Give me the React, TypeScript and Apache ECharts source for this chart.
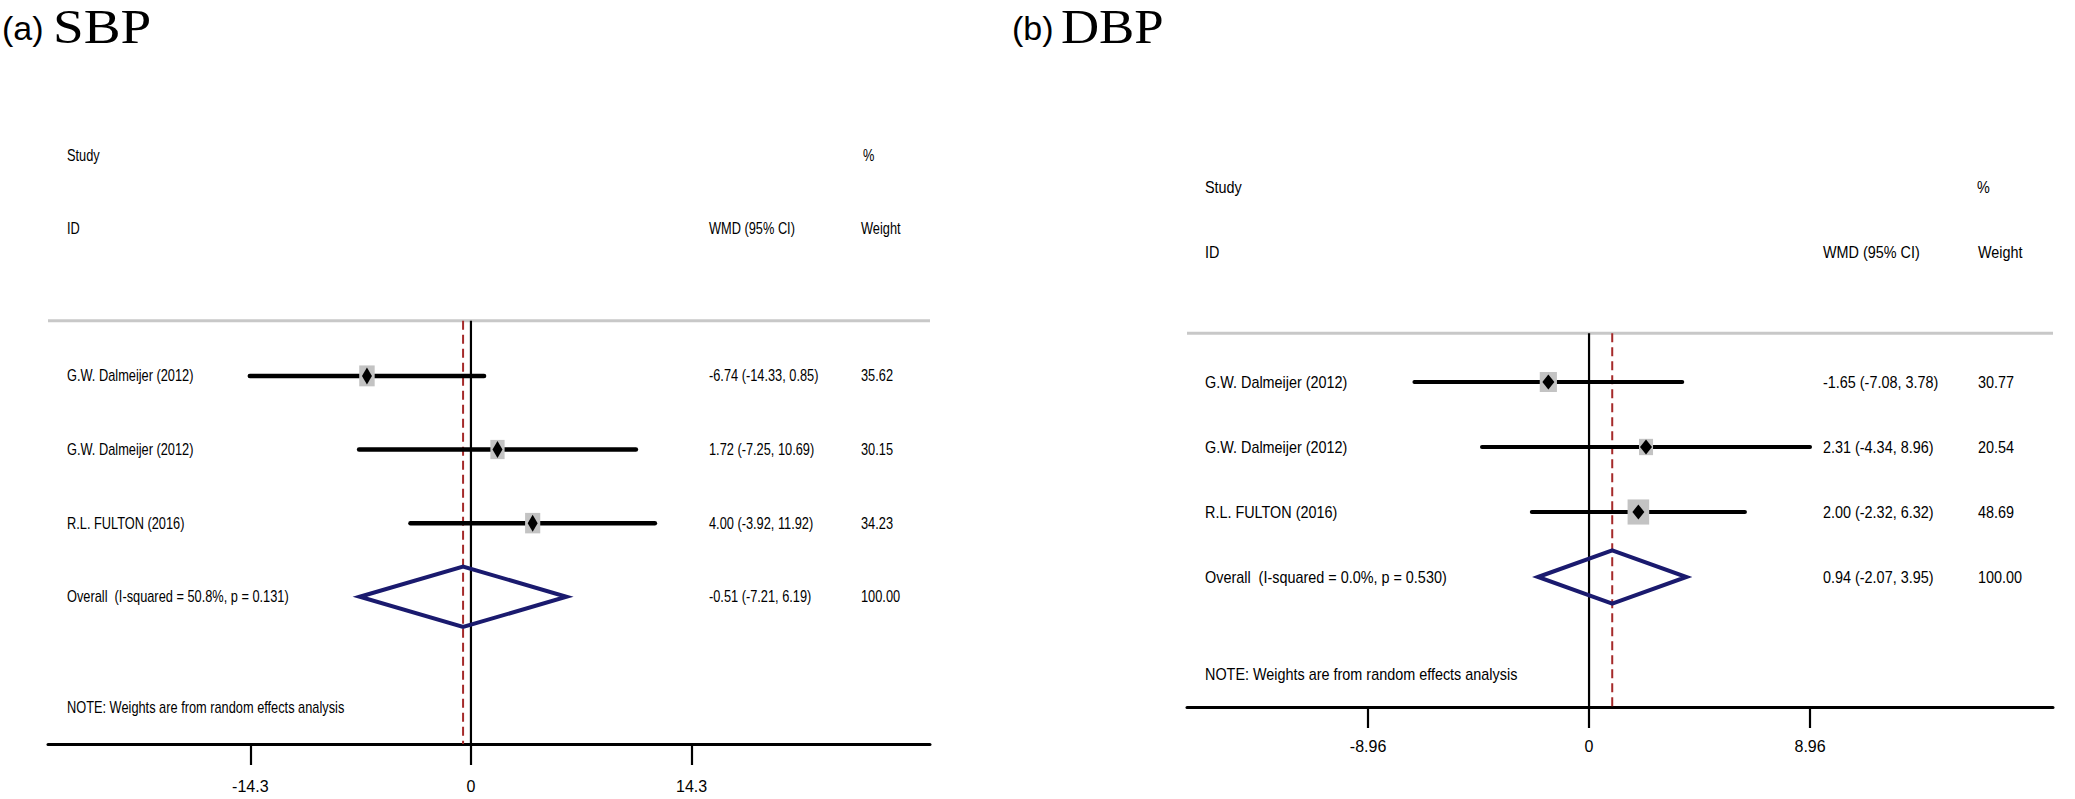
import React, { useEffect, useRef } from "react";
import * as echarts from "echarts";

// ---------- (a) SBP ----------
const sbpStudies = ["G.W. Dalmeijer (2012)", "G.W. Dalmeijer (2012)", "R.L. FULTON (2016)"];
const sbpWmd = [-6.74, 1.72, 4.0];
const sbpLower = [-14.33, -7.25, -3.92];
const sbpUpper = [0.85, 10.69, 11.92];
const sbpWeight = [35.62, 30.15, 34.23];
const sbpOverallLabel = "Overall  (I-squared = 50.8%, p = 0.131)";
const sbpOverall = [-0.51, -7.21, 6.19]; // wmd, lower, upper
const sbpOverallWeight = 100.0;
const sbpTicks = [-14.3, 0, 14.3];
const sbpTickLabels = ["-14.3", "0", "14.3"];

// ---------- (b) DBP ----------
const dbpStudies = ["G.W. Dalmeijer (2012)", "G.W. Dalmeijer (2012)", "R.L. FULTON (2016)"];
const dbpWmd = [-1.65, 2.31, 2.0];
const dbpLower = [-7.08, -4.34, -2.32];
const dbpUpper = [3.78, 8.96, 6.32];
const dbpWeight = [30.77, 20.54, 48.69];
const dbpOverallLabel = "Overall  (I-squared = 0.0%, p = 0.530)";
const dbpOverall = [0.94, -2.07, 3.95];
const dbpOverallWeight = 100.0;
const dbpTicks = [-8.96, 0, 8.96];
const dbpTickLabels = ["-8.96", "0", "8.96"];

// ---------- shared texts ----------
const hdrStudy = "Study";
const hdrId = "ID";
const hdrPct = "%";
const hdrWmd = "WMD (95% CI)";
const hdrWeight = "Weight";
const noteText = "NOTE: Weights are from random effects analysis";

const FONT = '"Liberation Sans", Arial, Helvetica, sans-serif';
const SERIF = '"Liberation Serif", "Times New Roman", Times, serif';

type Panel = {
  studies: string[];
  wmd: number[];
  lower: number[];
  upper: number[];
  weight: number[];
  overallLabel: string;
  overall: number[];
  overallWeight: number;
  ticks: number[];
  tickLabels: string[];
  grid: { left: number; top: number; width: number; height: number };
  xMin: number;
  xMax: number;
  nameX: number;
  wmdX: number;
  weightX: number;
  pctX: number;
  textScale: number;
  fontSize: number;
  boxK: number;
  boxAspect: number;
  markHW: number;
  markHH: number;
  ciWidth: number;
  labelMargin: number;
};

const panels: Panel[] = [
  {
    studies: sbpStudies, wmd: sbpWmd, lower: sbpLower, upper: sbpUpper, weight: sbpWeight,
    overallLabel: sbpOverallLabel, overall: sbpOverall, overallWeight: sbpOverallWeight,
    ticks: sbpTicks, tickLabels: sbpTickLabels,
    grid: { left: 48, top: 118.2, width: 882, height: 625.8 },
    xMin: -27.41, xMax: 29.75,
    nameX: 67, wmdX: 709, weightX: 861, pctX: 863,
    textScale: 0.8, fontSize: 16,
    boxK: 3.5, boxAspect: 0.74, markHW: 5, markHH: 8.5, ciWidth: 4.5,
    labelMargin: 34,
  },
  {
    studies: dbpStudies, wmd: dbpWmd, lower: dbpLower, upper: dbpUpper, weight: dbpWeight,
    overallLabel: dbpOverallLabel, overall: dbpOverall, overallWeight: dbpOverallWeight,
    ticks: dbpTicks, tickLabels: dbpTickLabels,
    grid: { left: 1187, top: 154.5, width: 866, height: 552.5 },
    xMin: -16.3, xMax: 18.81,
    nameX: 1205, wmdX: 1823, weightX: 1978, pctX: 1977,
    textScale: 0.9, fontSize: 16,
    boxK: 3.6, boxAspect: 0.86, markHW: 6, markHH: 7.5, ciWidth: 4,
    labelMargin: 31,
  },
];

const fmt = (v: number) => v.toFixed(2);

function txt(x: number, y: number, text: string, p: Panel) {
  return {
    type: "text",
    x,
    y,
    scaleX: p.textScale,
    style: {
      text,
      fill: "#000",
      fontSize: p.fontSize,
      fontFamily: FONT,
      align: "left",
      verticalAlign: "middle",
    },
  };
}

function frameRender(p: Panel) {
  return (_params: any, api: any) => {
    const yGray = api.coord([0, -0.75])[1];
    const yAxis = api.coord([0, 5])[1];
    const xL = api.coord([p.xMin, 0])[0];
    const xR = api.coord([p.xMax, 0])[0];
    const x0 = api.coord([0, 0])[0];
    const xOv = api.coord([p.overall[0], 0])[0];
    const yStudy = api.coord([0, -3])[1];
    const yId = api.coord([0, -2])[1];
    const yNote = api.coord([0, 4.5])[1];
    return {
      type: "group",
      children: [
        { type: "line", shape: { x1: xL, y1: yGray, x2: xR, y2: yGray }, style: { stroke: "#c8c8c8", lineWidth: 3 } },
        { type: "line", shape: { x1: x0, y1: yGray, x2: x0, y2: yAxis }, style: { stroke: "#000", lineWidth: 2.2 } },
        {
          type: "line",
          shape: { x1: xOv, y1: yGray, x2: xOv, y2: yAxis },
          style: { stroke: "#a52a2a", lineWidth: 2, lineDash: [9, 5] },
        },
        txt(p.nameX, yStudy, hdrStudy, p),
        txt(p.pctX, yStudy, hdrPct, p),
        txt(p.nameX, yId, hdrId, p),
        txt(p.wmdX, yId, hdrWmd, p),
        txt(p.weightX, yId, hdrWeight, p),
        txt(p.nameX, yNote, noteText, p),
      ],
    };
  };
}

function rowsRender(p: Panel) {
  return (_params: any, api: any) => {
    const i = api.value(0);
    const n = p.studies.length;
    const isOverall = i === n;
    const w = isOverall ? p.overall[0] : p.wmd[i];
    const lo = isOverall ? p.overall[1] : p.lower[i];
    const hi = isOverall ? p.overall[2] : p.upper[i];
    const wt = isOverall ? p.overallWeight : p.weight[i];
    const label = isOverall ? p.overallLabel : p.studies[i];
    const [xm, y] = api.coord([w, i]);
    const xl = api.coord([lo, i])[0];
    const xh = api.coord([hi, i])[0];
    const children: any[] = [];
    if (!isOverall) {
      children.push({
        type: "line",
        shape: { x1: xl, y1: y, x2: xh, y2: y },
        style: { stroke: "#000", lineWidth: p.ciWidth, lineCap: "round" },
      });
      const side = p.boxK * Math.sqrt(wt);
      const bw = side * p.boxAspect;
      children.push({
        type: "rect",
        shape: { x: xm - bw / 2, y: y - side / 2, width: bw, height: side },
        style: { fill: "#c3c3c3" },
      });
      children.push({
        type: "polygon",
        shape: {
          points: [
            [xm, y - p.markHH],
            [xm + p.markHW, y],
            [xm, y + p.markHH],
            [xm - p.markHW, y],
          ],
        },
        style: { fill: "#000" },
      });
    } else {
      const yTop = api.coord([w, i - 0.41])[1];
      const yBot = api.coord([w, i + 0.41])[1];
      children.push({
        type: "polygon",
        shape: { points: [[xl, y], [xm, yTop], [xh, y], [xm, yBot]] },
        style: { fill: "none", stroke: "#1a1a6e", lineWidth: 4, lineJoin: "miter" },
      });
    }
    children.push(txt(p.nameX, y, label, p));
    children.push(txt(p.wmdX, y, `${fmt(w)} (${fmt(lo)}, ${fmt(hi)})`, p));
    children.push(txt(p.weightX, y, fmt(wt), p));
    return { type: "group", children };
  };
}

function buildOption() {
  const grid = panels.map((p) => ({ ...p.grid, containLabel: false }));
  const xAxis = panels.map((p, gi) => ({
    type: "value",
    gridIndex: gi,
    min: p.xMin,
    max: p.xMax,
    position: "bottom",
    axisLine: { show: true, onZero: false, lineStyle: { color: "#000", width: 3 } },
    axisTick: { show: true, customValues: p.ticks, length: 21, lineStyle: { color: "#000", width: 2.2 } },
    axisLabel: {
      show: true,
      customValues: p.ticks,
      margin: p.labelMargin,
      color: "#000",
      fontSize: 16,
      fontFamily: FONT,
      formatter: (v: number) => {
        const k = p.ticks.findIndex((t) => Math.abs(t - v) < 1e-6);
        return k >= 0 ? p.tickLabels[k] : "";
      },
    },
    splitLine: { show: false },
  }));
  const yAxis = panels.map((_p, gi) => ({
    type: "value",
    gridIndex: gi,
    min: -3.5,
    max: 5,
    inverse: true,
    show: false,
  }));
  const series: any[] = [];
  panels.forEach((p, gi) => {
    series.push({
      type: "custom",
      xAxisIndex: gi,
      yAxisIndex: gi,
      data: [[0, 0]],
      renderItem: frameRender(p),
      silent: true,
      z: 1,
    });
    series.push({
      type: "custom",
      xAxisIndex: gi,
      yAxisIndex: gi,
      data: [...p.studies.map((_s, i) => [i, i]), [p.studies.length, p.studies.length]],
      renderItem: rowsRender(p),
      silent: true,
      z: 2,
    });
  });
  const graphic = [
    { type: "text", x: 2, y: 28, style: { text: "(a)", fill: "#000", fontSize: 34, fontFamily: FONT, verticalAlign: "middle" } },
    { type: "text", x: 53, y: 27, scaleX: 1.15, style: { text: "SBP", fill: "#000", fontSize: 48, fontFamily: SERIF, verticalAlign: "middle" } },
    { type: "text", x: 1012, y: 28, style: { text: "(b)", fill: "#000", fontSize: 34, fontFamily: FONT, verticalAlign: "middle" } },
    { type: "text", x: 1061, y: 27, scaleX: 1.1, style: { text: "DBP", fill: "#000", fontSize: 48, fontFamily: SERIF, verticalAlign: "middle" } },
  ];
  return {
    animation: false,
    backgroundColor: "#fff",
    grid,
    xAxis,
    yAxis,
    series,
    graphic,
  };
}

export default function App() {
  const ref = useRef<HTMLDivElement>(null);
  useEffect(() => {
    if (!ref.current) return;
    const chart = echarts.init(ref.current, undefined, { renderer: "svg" });
    chart.setOption(buildOption() as any);
    return () => chart.dispose();
  }, []);
  return (
    <div
      ref={ref}
      style={{ position: "absolute", left: 0, top: 0, width: 2075, height: 799, background: "#fff" }}
    />
  );
}
